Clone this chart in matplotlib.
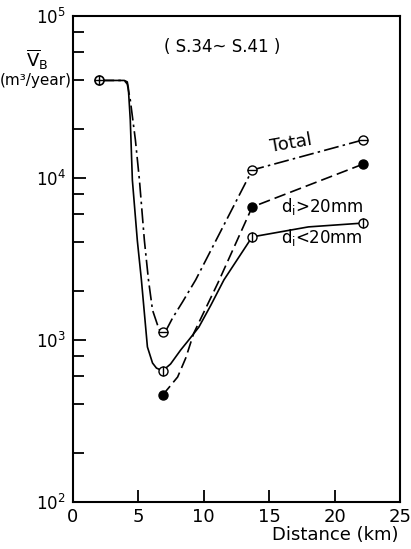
import numpy as np
import matplotlib
matplotlib.use("Agg")
import matplotlib.pyplot as plt
from matplotlib.ticker import LogLocator, FixedLocator, NullFormatter

# measured points (distance km, sediment volume m3/year)
start_x, start_y = 2.0, 4.0e4
pt_x = [6.85, 13.7, 22.2]
total_y = [1.12e3, 1.12e4, 1.72e4]
coarse_y = [4.57e2, 6.62e3, 1.22e4]     # d_i > 20 mm
fine_y = [6.45e2, 4.33e3, 5.27e3]       # d_i < 20 mm

# hand-drawn curve traces
fine_cx = [2.0, 3.92, 4.15, 4.23, 4.38, 4.54, 4.92, 5.23, 5.69, 6.08, 6.38, 6.85,
           7.46, 8.23, 8.85, 9.62, 10.54, 11.54, 13.7, 18.0, 22.2]
fine_cy = [4.0e4, 4.0e4, 3.92e4, 3.6e4, 2.28e4, 9.7e3, 4.1e3, 2.35e3, 906, 721, 671, 645,
           711, 867, 1.0e3, 1.2e3, 1.64e3, 2.35e3, 4.33e3, 4.99e3, 5.27e3]
total_cx = [2.0, 3.92, 4.15, 4.38, 4.77, 5.08, 5.46, 5.77, 6.08, 6.46, 6.62, 6.85,
            7.15, 7.62, 8.38, 9.38, 13.7, 22.2]
total_cy = [4.0e4, 4.0e4, 3.8e4, 3.03e4, 1.72e4, 9.7e3, 4.1e3, 2.35e3, 1.53e3, 1.24e3, 1.15e3, 1.12e3,
            1.16e3, 1.37e3, 1.72e3, 2.35e3, 1.12e4, 1.72e4]
coarse_cx = [6.85, 7.31, 8.0, 8.62, 9.23, 11.08, 13.7, 22.2]
coarse_cy = [457, 506, 591, 774, 1.10e3, 2.25e3, 6.62e3, 1.22e4]

fig = plt.figure(figsize=(4.11, 5.49), dpi=100)
ax = fig.add_axes([0.1776, 0.0856, 0.7956, 0.8853])

ax.set_yscale('log')
ax.set_xlim(0, 25)
ax.set_ylim(1e2, 1e5)

lw = 1.2
ax.plot(fine_cx, fine_cy, color='k', lw=lw)
ax.plot(total_cx, total_cy, color='k', lw=lw, dashes=[9, 2.5, 1.5, 2.5])
ax.plot(coarse_cx, coarse_cy, color='k', lw=lw, dashes=[7, 3])

ms = 6.5
# start point (circle with cross)
ax.plot([start_x], [start_y], 'o', ms=ms, mfc='white', mec='k', mew=1.2, zorder=5)
ax.plot([start_x], [start_y], '+', ms=ms, mec='k', mew=1.0, zorder=6)
# total: open circles with horizontal bar
ax.plot(pt_x, total_y, 'o', ms=ms, mfc='white', mec='k', mew=1.0, zorder=5)
ax.plot(pt_x, total_y, '_', ms=ms, mec='k', mew=1.0, zorder=6)
# d < 20 mm: open circles with vertical bar
ax.plot(pt_x, fine_y, 'o', ms=ms, mfc='white', mec='k', mew=1.0, zorder=5)
ax.plot(pt_x, fine_y, '|', ms=ms, mec='k', mew=1.0, zorder=6)
# d > 20 mm: filled circles
ax.plot(pt_x, coarse_y, 'o', ms=ms, mfc='k', mec='k', zorder=5)

for s in ax.spines.values():
    s.set_linewidth(1.5)

ax.xaxis.set_major_locator(FixedLocator([0, 5, 10, 15, 20, 25]))
ax.yaxis.set_major_locator(LogLocator(base=10, numticks=10))
ax.yaxis.set_minor_locator(LogLocator(base=10, subs=[2, 4, 6, 8], numticks=10))
ax.yaxis.set_minor_formatter(NullFormatter())
ax.tick_params(axis='both', which='both', direction='in', width=1.3)
ax.tick_params(axis='y', which='major', length=9, labelsize=12, pad=5)
ax.tick_params(axis='y', which='minor', length=8)
ax.tick_params(axis='x', which='major', length=9, labelsize=13, pad=4)

ax.text(16.7, 1.64e4, 'Total', fontsize=13, rotation=10, ha='center', va='center')
ax.text(15.9, 6.7e3, r'd$_\mathregular{i}$>20mm', fontsize=12, ha='left', va='center')
ax.text(15.9, 4.27e3, r'd$_\mathregular{i}$<20mm', fontsize=12, ha='left', va='center')
ax.text(11.4, 6.44e4, '( S.34~ S.41 )', fontsize=12, ha='center', va='center')

fig.text(37 / 411, 1 - 60 / 549, r'$\overline{\mathregular{V}}_\mathregular{B}$', fontsize=13,
         ha='center', va='center')
fig.text(36 / 411, 1 - 80 / 549, '(m³/year)', fontsize=11, ha='center', va='center')
fig.text(398 / 411, 1 - 535 / 549, 'Distance (km)', fontsize=13, ha='right', va='center')

fig.savefig('out.png', dpi=100)
